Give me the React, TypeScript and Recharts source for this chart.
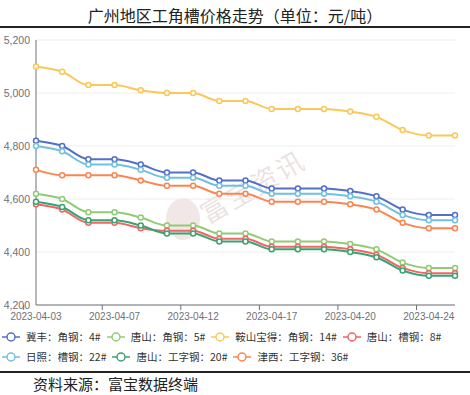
import { LineChart, Line, XAxis, YAxis, CartesianGrid } from "recharts";

const dates = [
  "2023-04-03", "2023-04-04", "2023-04-06", "2023-04-07", "2023-04-10", "2023-04-11",
  "2023-04-12", "2023-04-13", "2023-04-14", "2023-04-17", "2023-04-18", "2023-04-19",
  "2023-04-20", "2023-04-21", "2023-04-23", "2023-04-24", "2023-04-25",
];

const jifeng = [4820, 4800, 4750, 4750, 4730, 4700, 4700, 4670, 4670, 4640, 4640, 4640, 4630, 4610, 4560, 4540, 4540];
const tsJiao5 = [4620, 4600, 4550, 4550, 4530, 4500, 4500, 4470, 4470, 4440, 4440, 4440, 4430, 4410, 4360, 4340, 4340];
const anshan = [5100, 5080, 5030, 5030, 5010, 5000, 5000, 4970, 4970, 4940, 4940, 4940, 4930, 4910, 4860, 4840, 4840];
const tsCao8 = [4580, 4560, 4510, 4510, 4490, 4480, 4480, 4450, 4450, 4420, 4420, 4420, 4410, 4390, 4340, 4320, 4320];
const rizhao = [4800, 4780, 4730, 4730, 4710, 4680, 4680, 4650, 4650, 4620, 4620, 4620, 4610, 4590, 4540, 4520, 4520];
const tsGong20 = [4590, 4570, 4520, 4520, 4500, 4470, 4470, 4440, 4440, 4410, 4410, 4410, 4400, 4380, 4330, 4310, 4310];
const jinxi = [4710, 4690, 4690, 4690, 4670, 4650, 4650, 4620, 4620, 4590, 4590, 4590, 4580, 4560, 4510, 4490, 4490];

const yTicks = [4200, 4400, 4600, 4800, 5000, 5200];

const series = [
  { key: "jifeng", name: "冀丰：角钢：4#", values: jifeng, color: "#5470c6" },
  { key: "tsJiao5", name: "唐山：角钢：5#", values: tsJiao5, color: "#91cc75" },
  { key: "anshan", name: "鞍山宝得：角钢：14#", values: anshan, color: "#fac858" },
  { key: "tsCao8", name: "唐山：槽钢：8#", values: tsCao8, color: "#ee6666" },
  { key: "rizhao", name: "日照：槽钢：22#", values: rizhao, color: "#73c0de" },
  { key: "tsGong20", name: "唐山：工字钢：20#", values: tsGong20, color: "#3ba272" },
  { key: "jinxi", name: "津西：工字钢：36#", values: jinxi, color: "#fc8452" },
];

const data = dates.map((d, i) => {
  const row: Record<string, string | number> = { date: d };
  series.forEach((s) => (row[s.key] = s.values[i]));
  return row;
});

const FONT = "'Noto Sans CJK SC', 'Noto Sans', sans-serif";
const NUM_FONT = "'Liberation Sans', Arial, sans-serif";
const W = 470;
const H = 330;
const M = { top: 40, right: 15, left: 0, bottom: 0 };
const Y_W = 36;
const PLOT_BOTTOM = H - 25;
const BAND = (W - M.right - Y_W) / dates.length;

const XTick = (props: any) => {
  const { x, payload } = props;
  return (
    <g>
      <line x1={x - BAND / 2} x2={x - BAND / 2} y1={PLOT_BOTTOM} y2={PLOT_BOTTOM + 5} stroke="#6e7079" />
      <text x={x} y={PLOT_BOTTOM + 15} textAnchor="middle" fontSize={10} fill="#6e7079" fontFamily={NUM_FONT}>
        {payload.value}
      </text>
    </g>
  );
};

const YTick = (props: any) => {
  const { y, payload } = props;
  return (
    <text x={Y_W - 6} y={y} dy={3.5} textAnchor="end" fontSize={10.5} fill="#6e7079" fontFamily={NUM_FONT}>
      {Number(payload.value).toLocaleString("en-US")}
    </text>
  );
};

function LegendIcon({ color }: { color: string }) {
  return (
    <svg width={18} height={12} style={{ marginRight: 6, flexShrink: 0 }}>
      <line x1={0} x2={18} y1={6} y2={6} stroke={color} strokeWidth={1.5} />
      <circle cx={9} cy={6} r={4} fill="#fff" stroke={color} strokeWidth={1.5} />
    </svg>
  );
}

export default function App() {
  return (
    <div style={{ position: "absolute", left: 0, top: 0, width: W, height: 395, background: "#fff", fontFamily: FONT }}>
      <div style={{ position: "absolute", top: 3, left: 0, width: W, textAlign: "center", fontSize: 16, color: "#222" }}>
        广州地区工角槽价格走势（单位：元/吨）
      </div>
      <div style={{ position: "absolute", top: 26, left: 0, width: W, height: 2, background: "#222" }} />

      {/* 水印 */}
      <div style={{ position: "absolute", left: 166, top: 198, width: 34, height: 42, borderRadius: "50%", background: "rgba(200,160,160,0.25)" }} />
      <div
        style={{
          position: "absolute",
          left: 194,
          top: 166,
          fontSize: 27,
          color: "rgba(200,170,170,0.35)",
          transform: "rotate(-30deg)",
          letterSpacing: 2,
        }}
      >
        富宝资讯
      </div>

      <div style={{ position: "absolute", left: 0, top: 0 }}>
        <LineChart width={W} height={H} data={data} margin={M}>
          <CartesianGrid horizontal vertical={false} stroke="#eeeeee" yAxisId="l" />
          <XAxis
            dataKey="date"
            interval={2}
            tickLine={false}
            tick={<XTick />}
            height={25}
            axisLine={{ stroke: "#6e7079" }}
          />
          <YAxis
            yAxisId="l"
            width={Y_W}
            domain={[4200, 5200]}
            ticks={yTicks}
            tickLine={false}
            axisLine={{ stroke: "#6e7079" }}
            tick={<YTick />}
          />
          <YAxis
            yAxisId="r"
            orientation="right"
            width={0}
            domain={[4200, 5200]}
            tick={false}
            tickLine={false}
            axisLine={{ stroke: "#cccccc" }}
          />
          {series.map((s) => (
            <Line
              key={s.key}
              yAxisId="l"
              type="monotone"
              dataKey={s.key}
              name={s.name}
              stroke={s.color}
              strokeWidth={2}
              dot={{ r: 2.5, fill: "#fff", stroke: s.color, strokeWidth: 1.5 }}
              isAnimationActive={false}
            />
          ))}
        </LineChart>
      </div>

      <div
        style={{
          position: "absolute",
          left: 2,
          top: 330,
          width: 468,
          display: "flex",
          flexWrap: "wrap",
          rowGap: 6,
          columnGap: 6,
          fontSize: 10.5,
          color: "#333",
          lineHeight: "14px",
        }}
      >
        {series.map((s) => (
          <div key={s.key} style={{ display: "flex", alignItems: "center", whiteSpace: "nowrap" }}>
            <LegendIcon color={s.color} />
            {s.name}
          </div>
        ))}
      </div>

      <div style={{ position: "absolute", top: 371, left: 0, width: W, height: 1.5, background: "#222" }} />
      <div style={{ position: "absolute", top: 373, left: 33, fontSize: 15, color: "#222" }}>资料来源：富宝数据终端</div>
    </div>
  );
}
